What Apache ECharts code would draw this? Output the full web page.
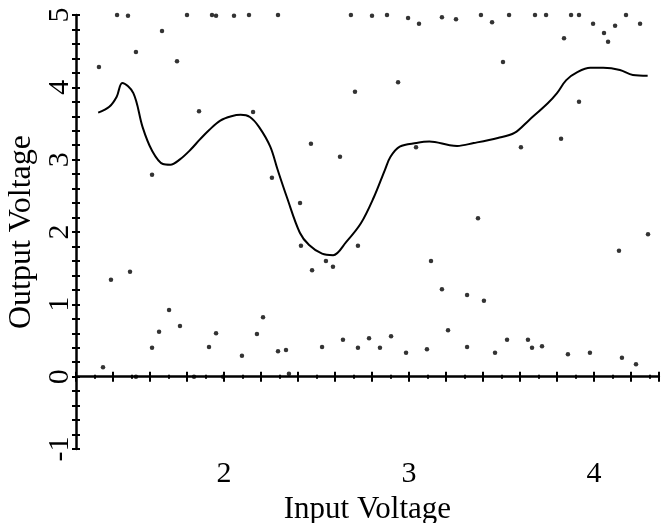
<!DOCTYPE html>
<html>
<head>
<meta charset="utf-8">
<script src="https://cdn.jsdelivr.net/npm/echarts@6/dist/echarts.min.js"></script>
<style>
html,body{margin:0;padding:0;background:#fff;}
#chart{width:662px;height:523px;}
</style>
</head>
<body>
<div id="chart"></div>
<script>
// Smooth curve (input voltage, output voltage)
const curveX = [1.32,1.38,1.42,1.45,1.51,1.56,1.61,1.67,1.71,1.76,1.82,1.87,1.92,1.98,2.04,2.09,2.14,2.19,2.25,2.29,2.34,2.41,2.46,2.53,2.59,2.66,2.74,2.81,2.87,2.90,2.95,3.04,3.11,3.22,3.26,3.35,3.48,3.57,3.65,3.75,3.80,3.85,3.91,3.98,4.05,4.14,4.21,4.29];
const curveY = [3.65,3.73,3.87,4.06,3.92,3.45,3.13,2.94,2.93,3.00,3.14,3.28,3.41,3.54,3.60,3.62,3.59,3.45,3.18,2.86,2.48,1.99,1.82,1.70,1.68,1.86,2.12,2.48,2.86,3.04,3.18,3.23,3.25,3.20,3.19,3.23,3.30,3.37,3.55,3.78,3.92,4.10,4.21,4.27,4.27,4.24,4.17,4.16];

// Scattered samples
const dotX = [1.422,1.481,1.665,1.524,1.324,1.746,1.800,1.935,1.957,2.054,2.135,2.292,2.686,2.800,2.881,2.995,3.054,3.178,3.254,3.389,3.449,3.541,3.681,3.741,3.876,3.919,3.995,4.054,4.076,4.114,4.173,4.249,3.838,3.508,3.919,3.605,3.822,2.708,2.941,1.865,2.157,2.470,2.627,2.259,3.038,1.611,2.411,2.416,2.724,2.551,2.476,2.589,3.119,3.178,3.211,3.373,3.314,3.405,4.135,4.292,1.492,1.389,1.703,1.762,1.649,1.957,2.211,2.178,1.919,1.611,2.097,2.292,2.335,2.530,2.643,2.724,2.784,2.843,2.903,2.984,3.097,3.314,3.465,3.530,3.643,3.665,3.719,3.859,3.978,4.151,4.227,1.346,1.524,1.838,1.995,2.351];
const dotY = [5.00,4.99,4.78,4.49,4.28,4.36,5.00,5.00,4.99,4.99,5.00,5.00,5.00,4.99,5.00,4.96,4.88,4.97,4.94,5.00,4.90,5.00,5.00,5.00,5.00,5.00,4.88,4.75,4.63,4.85,5.00,4.88,4.68,4.35,3.80,3.17,3.29,3.94,4.07,3.67,3.66,3.22,3.04,2.75,3.17,2.79,2.40,1.81,1.81,1.60,1.47,1.52,1.60,1.21,0.64,2.19,1.13,1.05,1.74,1.97,1.45,1.34,0.92,0.70,0.62,0.60,0.82,0.59,0.41,0.40,0.29,0.35,0.37,0.41,0.51,0.40,0.53,0.40,0.56,0.33,0.38,0.41,0.33,0.51,0.51,0.40,0.42,0.31,0.33,0.26,0.17,0.13,0.00,0.00,0.00,0.04];

const xMin = 1.2, xMax = 4.35, yMin = -1, yMax = 5;

const curve = curveX.map((x, i) => [x, curveY[i]]);
const dots = dotX.map((x, i) => [x, dotY[i]]);

const isInt = v => Math.abs(v - Math.round(v)) < 1e-6;
const fmt = v => isInt(v) ? String(Math.round(v)) : '';
const FONT = '"Liberation Serif", "DejaVu Serif", serif';

const baseX = {
  type: 'value', min: xMin, max: xMax, interval: 0.2,
  splitLine: { show: false }
};
const baseY = {
  type: 'value', min: yMin, max: yMax, interval: 0.2,
  splitLine: { show: false }
};

const chart = echarts.init(document.getElementById('chart'), null, { renderer: 'canvas' });
chart.setOption({
  backgroundColor: '#fff',
  animation: false,
  grid: { left: 76, top: 15, right: 3.25, bottom: 74, containLabel: false, outerBoundsMode: 'none' },
  xAxis: [
    Object.assign({}, baseX, {
      position: 'bottom',
      name: 'Input Voltage',
      nameLocation: 'middle',
      nameGap: 42,
      nameTextStyle: { fontFamily: FONT, fontSize: 31, color: '#000' },
      axisLine: { show: true, lineStyle: { color: '#000', width: 2.5 } },
      axisTick: { show: true, inside: false, length: 5, lineStyle: { color: '#000', width: 2 } },
      minorTick: { show: true, splitNumber: 2, length: 2, lineStyle: { color: '#000', width: 2 } },
      axisLabel: { formatter: fmt, margin: 10, fontFamily: FONT, fontSize: 30, color: '#000' }
    }),
    Object.assign({}, baseX, {
      position: 'bottom', offset: 0,
      axisLine: { show: false },
      axisTick: { show: true, inside: true, length: 5, lineStyle: { color: '#000', width: 2 } },
      minorTick: { show: true, splitNumber: 2, length: 2, lineStyle: { color: '#000', width: 2 } },
      axisLabel: { show: false }
    })
  ],
  yAxis: [
    Object.assign({}, baseY, {
      position: 'left',
      name: 'Output Voltage',
      nameLocation: 'middle',
      nameGap: 34,
      nameRotate: 90,
      nameTextStyle: { fontFamily: FONT, fontSize: 32, color: '#000' },
      axisLine: { show: true, lineStyle: { color: '#000', width: 2.5 } },
      axisTick: { show: true, inside: false, length: 4, lineStyle: { color: '#000', width: 2 } },
      axisLabel: { formatter: fmt, rotate: 90, margin: 1, fontFamily: FONT, fontSize: 30, color: '#000' }
    }),
    Object.assign({}, baseY, {
      position: 'left', offset: 0,
      axisLine: { show: false },
      axisTick: { show: true, inside: true, length: 4, lineStyle: { color: '#000', width: 2 } },
      axisLabel: { show: false }
    })
  ],
  series: [
    {
      type: 'line', data: curve, xAxisIndex: 0, yAxisIndex: 0,
      smooth: 0.35, showSymbol: false, symbol: 'none',
      lineStyle: { color: '#000', width: 2 }
    },
    {
      type: 'scatter', data: dots, xAxisIndex: 0, yAxisIndex: 0,
      symbol: 'circle', symbolSize: 4.5,
      itemStyle: { color: '#000' }
    }
  ]
});
</script>
</body>
</html>
